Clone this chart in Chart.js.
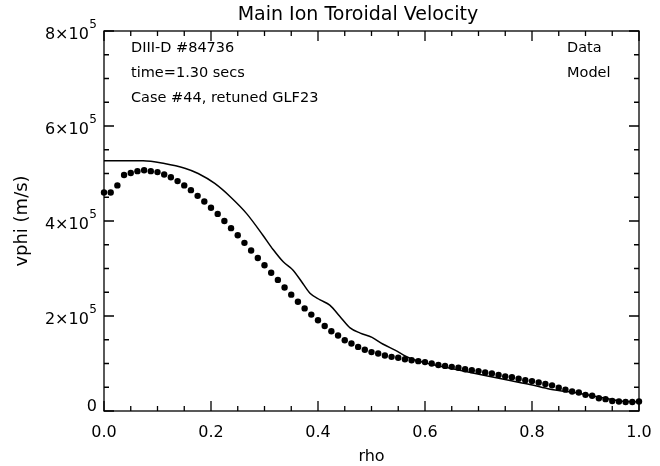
<!DOCTYPE html>
<html>
<head>
<meta charset="utf-8">
<script src="https://cdn.jsdelivr.net/npm/chart.js@4/dist/chart.umd.min.js"></script>
<style>
html,body{margin:0;padding:0;background:#fff;}
#wrap{width:660px;height:466px;}
</style>
</head>
<body>
<div id="wrap"><canvas id="c" width="660" height="466"></canvas></div>
<script>
// ---- data ----
const chartTitle = "Main Ion Toroidal Velocity";
const xTitle = "rho";
const yTitle = "vphi (m/s)";
const infoLines = ["DIII-D #84736", "time=1.30 secs", "Case #44, retuned GLF23"];
const legendLabels = ["Data", "Model"];

// y tick labels: mantissa text and power-of-ten exponent
const yTickBase = {0: "0", 200000: "2×10", 400000: "4×10", 600000: "6×10", 800000: "8×10"};
const yTickExp  = {0: "", 200000: "5", 400000: "5", 600000: "5", 800000: "5"};
const xTickLabels = {0: "0.0", 0.2: "0.2", 0.4: "0.4", 0.6: "0.6", 0.8: "0.8", 1: "1.0"};

const dataRho = [0.0000,0.0125,0.0250,0.0375,0.0500,0.0625,0.0750,0.0875,0.1000,0.1125,
0.1250,0.1375,0.1500,0.1625,0.1750,0.1875,0.2000,0.2125,0.2250,0.2375,
0.2500,0.2625,0.2750,0.2875,0.3000,0.3125,0.3250,0.3375,0.3500,0.3625,
0.3750,0.3875,0.4000,0.4125,0.4250,0.4375,0.4500,0.4625,0.4750,0.4875,
0.5000,0.5125,0.5250,0.5375,0.5500,0.5625,0.5750,0.5875,0.6000,0.6125,
0.6250,0.6375,0.6500,0.6625,0.6750,0.6875,0.7000,0.7125,0.7250,0.7375,
0.7500,0.7625,0.7750,0.7875,0.8000,0.8125,0.8250,0.8375,0.8500,0.8625,
0.8750,0.8875,0.9000,0.9125,0.9250,0.9375,0.9500,0.9625,0.9750,0.9875,1.0000];
const dataVphi = [4.60e5,4.60e5,4.75e5,4.97e5,5.01e5,5.05e5,5.07e5,5.05e5,5.03e5,4.98e5,
4.92e5,4.84e5,4.75e5,4.65e5,4.53e5,4.41e5,4.28e5,4.15e5,4.00e5,3.85e5,
3.70e5,3.54e5,3.38e5,3.22e5,3.07e5,2.91e5,2.76e5,2.60e5,2.45e5,2.30e5,
2.16e5,2.03e5,1.91e5,1.79e5,1.68e5,1.59e5,1.49e5,1.42e5,1.35e5,1.29e5,
1.24e5,1.21e5,1.17e5,1.14e5,1.12e5,1.09e5,1.07e5,1.05e5,1.03e5,1.00e5,
0.97e5,0.95e5,0.93e5,0.91e5,0.88e5,0.86e5,0.84e5,0.81e5,0.79e5,0.76e5,
0.73e5,0.71e5,0.68e5,0.65e5,0.63e5,0.60e5,0.57e5,0.54e5,0.49e5,0.45e5,
0.41e5,0.39e5,0.34e5,0.32e5,0.27e5,0.25e5,0.21e5,0.20e5,0.19e5,0.19e5,0.20e5];

const modelRho = [0.000,0.073,0.113,0.151,0.176,0.207,0.237,0.267,0.297,0.316,
0.335,0.353,0.372,0.385,0.404,0.422,0.441,0.460,0.479,0.501,
0.521,0.544,0.572,0.609,0.656,0.703,0.759,0.796,0.834,0.890,
0.927,0.964,1.000];
const modelVphi = [5.27e5,5.27e5,5.21e5,5.11e5,5.00e5,4.79e5,4.50e5,4.15e5,3.70e5,3.40e5,
3.14e5,2.97e5,2.68e5,2.48e5,2.34e5,2.23e5,1.99e5,1.75e5,1.64e5,1.55e5,
1.41e5,1.28e5,1.11e5,0.99e5,0.88e5,0.77e5,0.64e5,0.56e5,0.46e5,0.37e5,
0.29e5,0.21e5,0.19e5];

// ---- chart ----
const FONT = "'DejaVu Sans', sans-serif";

const frameTicks = {
  id: 'frameTicks',
  afterDatasetsDraw(chart) {
    const ctx = chart.ctx, a = chart.chartArea;
    const xs = chart.scales.x, ys = chart.scales.y;
    ctx.save();
    ctx.strokeStyle = '#000';
    ctx.lineWidth = 1.3;
    ctx.strokeRect(a.left, a.top, a.right - a.left, a.bottom - a.top);
    const MAJ = 10, MIN = 5;
    ctx.beginPath();
    const xt = xs.ticks.map(t => t.value);
    for (let i = 0; i < xt.length; i++) {
      const p = xs.getPixelForValue(xt[i]);
      ctx.moveTo(p, a.bottom); ctx.lineTo(p, a.bottom - MAJ);
      ctx.moveTo(p, a.top); ctx.lineTo(p, a.top + MAJ);
      if (i < xt.length - 1) {
        for (let k = 1; k < 4; k++) {
          const q = xs.getPixelForValue(xt[i] + (xt[i+1] - xt[i]) * k / 4);
          ctx.moveTo(q, a.bottom); ctx.lineTo(q, a.bottom - MIN);
          ctx.moveTo(q, a.top); ctx.lineTo(q, a.top + MIN);
        }
      }
    }
    const yt = ys.ticks.map(t => t.value);
    for (let i = 0; i < yt.length; i++) {
      const p = ys.getPixelForValue(yt[i]);
      ctx.moveTo(a.left, p); ctx.lineTo(a.left + MAJ, p);
      ctx.moveTo(a.right, p); ctx.lineTo(a.right - MAJ, p);
      if (i < yt.length - 1) {
        for (let k = 1; k < 4; k++) {
          const q = ys.getPixelForValue(yt[i] + (yt[i+1] - yt[i]) * k / 4);
          ctx.moveTo(a.left, q); ctx.lineTo(a.left + MIN, q);
          ctx.moveTo(a.right, q); ctx.lineTo(a.right - MIN, q);
        }
      }
    }
    ctx.stroke();

    // y tick labels with superscript exponent
    ctx.fillStyle = '#000';
    ctx.textBaseline = 'middle';
    ctx.textAlign = 'right';
    for (const v of yt) {
      const p = ys.getPixelForValue(v);
      const base = yTickBase[v] ?? '';
      const ex = yTickExp[v] ?? '';
      let xr = a.left - 7;
      if (ex) {
        ctx.font = "12px " + FONT;
        ctx.fillText(ex, xr, p - 6);
        xr -= ctx.measureText(ex).width + 0.5;
        ctx.font = "16px " + FONT;
        ctx.fillText(base, xr, p + 4);
      } else {
        ctx.font = "16px " + FONT;
        ctx.fillText(base, xr, p - 4);
      }
    }

    // title
    ctx.textAlign = 'center';
    ctx.font = "19px " + FONT;
    ctx.fillText(chartTitle, 358, 15);

    // annotation text
    ctx.font = "14.5px " + FONT;
    ctx.textAlign = 'left';
    infoLines.forEach((s, i) => ctx.fillText(s, a.left + 27, a.top + 17 + i * 25));
    legendLabels.forEach((s, i) => ctx.fillText(s, a.right - 72, a.top + 17 + i * 25));
    ctx.restore();
  }
};

new Chart(document.getElementById('c'), {
  type: 'scatter',
  data: {
    datasets: [
      {
        label: legendLabels[0],
        data: dataRho.map((r, i) => ({x: r, y: dataVphi[i]})),
        showLine: false,
        pointRadius: 3.2,
        pointBackgroundColor: '#000',
        pointBorderWidth: 0,
        clip: false
      },
      {
        label: legendLabels[1],
        data: modelRho.map((r, i) => ({x: r, y: modelVphi[i]})),
        showLine: true,
        borderColor: '#000',
        borderWidth: 1.5,
        pointRadius: 0,
        cubicInterpolationMode: 'monotone',
        fill: false
      }
    ]
  },
  options: {
    responsive: false,
    animation: false,
    devicePixelRatio: 1,
    layout: {padding: {left: 0, right: 21, top: 31, bottom: 0}},
    plugins: {
      legend: {display: false},
      tooltip: {enabled: false},
      title: {display: false}
    },
    scales: {
      x: {
        type: 'linear',
        min: 0, max: 1,
        afterFit(s) { s.height = 55; s.paddingLeft = 0; s.paddingRight = 0; },
        ticks: {
          stepSize: 0.2,
          color: '#000',
          font: {family: FONT, size: 16},
          padding: 12,
          maxRotation: 0,
          callback: v => xTickLabels[Math.round(v * 10) / 10] ?? ''
        },
        grid: {display: false, drawTicks: false},
        border: {display: false},
        title: {
          display: true, text: xTitle, color: '#000',
          font: {family: FONT, size: 16},
          padding: {top: 2, bottom: 0}
        }
      },
      y: {
        type: 'linear',
        min: 0, max: 800000,
        afterFit(s) { s.width = 104; s.paddingTop = 0; s.paddingBottom = 0; },
        ticks: {
          display: false,
          stepSize: 200000
        },
        grid: {display: false, drawTicks: false},
        border: {display: false},
        title: {
          display: true, text: yTitle, color: '#000',
          font: {family: FONT, size: 18},
          padding: {top: 12, bottom: 0}
        }
      }
    }
  },
  plugins: [frameTicks]
});
</script>
</body>
</html>
